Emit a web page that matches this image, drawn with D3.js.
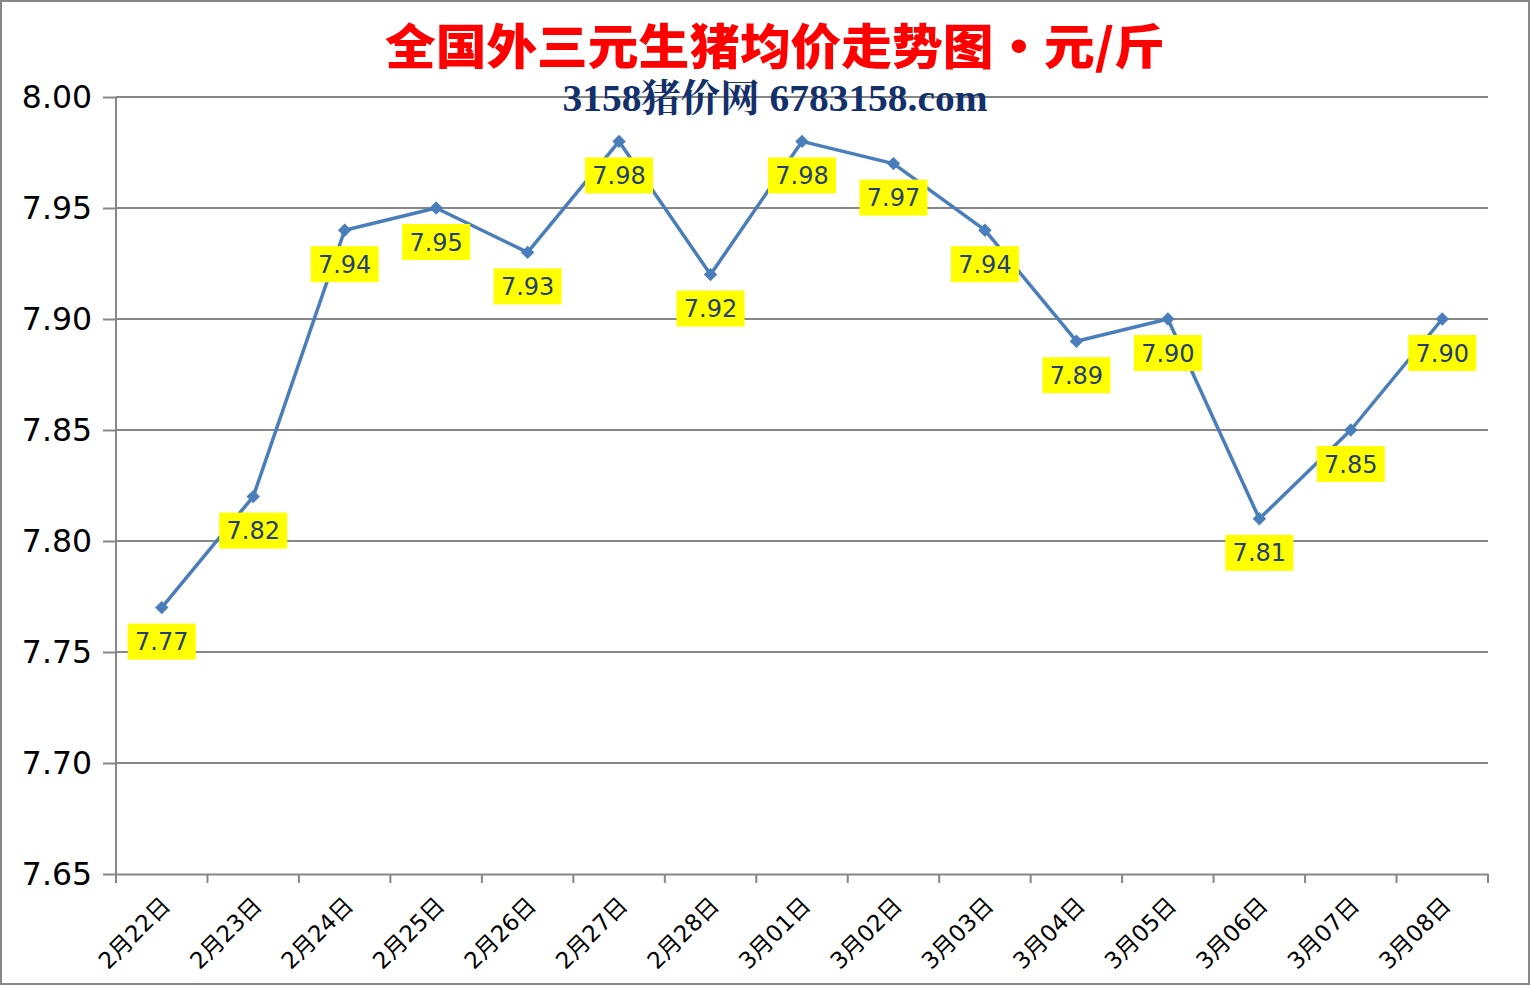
<!DOCTYPE html>
<html><head><meta charset="utf-8">
<script src="https://cdn.jsdelivr.net/npm/d3@7"></script>
<style>body{margin:0;background:#fff}svg{display:block}</style>
</head><body><svg id="c" width="1531" height="986"></svg>
<script>
const categories = ["2月22日","2月23日","2月24日","2月25日","2月26日","2月27日","2月28日","3月01日","3月02日","3月03日","3月04日","3月05日","3月06日","3月07日","3月08日"];
const prices = [7.77,7.82,7.94,7.95,7.93,7.98,7.92,7.98,7.97,7.94,7.89,7.90,7.81,7.85,7.90];
const yTicks = [7.65,7.70,7.75,7.80,7.85,7.90,7.95,8.00];
const titleText = "全国外三元生猪均价走势图・元/斤";
const subtitleText = "3158猪价网 6783158.com";

const svg = d3.select("#c");
const L = 116, R = 1488, T = 97, B = 874;
svg.append("rect").attr("x",1).attr("y",1).attr("width",1528).attr("height",983)
  .attr("fill","#fff").attr("stroke","#878787").attr("stroke-width",2);

const x = d3.scaleBand().domain(categories).range([L,R]);
const y = d3.scaleLinear().domain([7.65,8.00]).range([B,T]);

svg.append("g").selectAll("line").data(yTicks.filter(d=>d>7.65)).join("line")
  .attr("x1",L).attr("x2",R).attr("y1",d=>y(d)).attr("y2",d=>y(d))
  .attr("stroke","#878787").attr("stroke-width",2);

const ya = svg.append("g").attr("transform",`translate(${L},0)`)
  .call(d3.axisLeft(y).tickValues(yTicks).tickFormat(d3.format(".2f")).tickSize(13).tickPadding(11));
ya.select(".domain").attr("stroke","#878787").attr("stroke-width",2).attr("d",`M-0,${T}V${B}`);
ya.selectAll(".tick line").attr("stroke","#878787").attr("stroke-width",2);
ya.selectAll("text").attr("font-family","DejaVu Sans").attr("font-size",31.5).attr("fill","#000");

const xa = svg.append("g").attr("transform",`translate(0,${B})`)
  .call(d3.axisBottom(x).tickSize(0).tickPadding(0));
xa.select(".domain").attr("stroke","#878787").attr("stroke-width",2);
xa.selectAll(".tick line").remove();
const edges = categories.map(c=>x(c)).concat([R]);
xa.append("g").selectAll("line").data(edges).join("line")
  .attr("x1",d=>d).attr("x2",d=>d).attr("y1",0).attr("y2",9)
  .attr("stroke","#878787").attr("stroke-width",2);
xa.selectAll(".tick text")
  .attr("font-family","DejaVu Sans, Noto Sans CJK SC").attr("font-size",23).attr("fill","#000")
  .attr("text-anchor","end").attr("dy",0)
  .attr("transform","translate(10,33) rotate(-45)");

const cx = d => x(d.c) + x.bandwidth()/2;
const data = categories.map((c,i)=>({c, v:prices[i]}));
svg.append("path").datum(data)
  .attr("d", d3.line().x(cx).y(d=>y(d.v)))
  .attr("fill","none").attr("stroke","#4a7ebb").attr("stroke-width",3.5).attr("stroke-linejoin","round");
svg.append("g").selectAll("path").data(data).join("path")
  .attr("d", d3.symbol(d3.symbolSquare, 90))
  .attr("transform", d=>`translate(${cx(d)},${y(d.v)}) rotate(45)`)
  .attr("fill","#4a7ebb");

const lg = svg.append("g").selectAll("g").data(data).join("g")
  .attr("transform", d=>`translate(${cx(d)},${y(d.v)+34})`);
lg.append("rect").attr("x",-34).attr("y",-18).attr("width",68).attr("height",36).attr("fill","#ffff00");
lg.append("text").text(d=>d.v.toFixed(2)).attr("text-anchor","middle").attr("dy","0.36em")
  .attr("font-family","DejaVu Sans").attr("font-size",24).attr("fill","#243f73");

svg.append("text").text(titleText).attr("x",775).attr("y",64).attr("text-anchor","middle")
  .attr("font-family","Noto Sans CJK SC").attr("font-weight",900).attr("font-size",48)
  .attr("fill","#ff0000").attr("textLength",780).attr("lengthAdjust","spacingAndGlyphs");
svg.append("text").text(subtitleText).attr("x",775).attr("y",111).attr("text-anchor","middle")
  .attr("font-family","Liberation Serif, Noto Serif CJK SC").attr("font-weight","bold").attr("font-size",38)
  .attr("fill","#13306b").attr("textLength",425).attr("lengthAdjust","spacingAndGlyphs");
</script></body></html>
